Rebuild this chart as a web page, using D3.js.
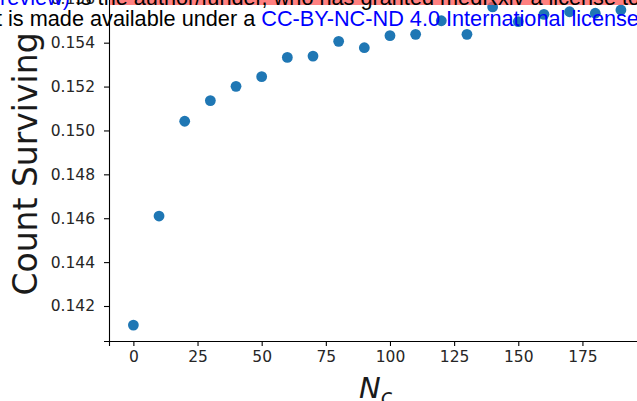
<!DOCTYPE html>
<html>
<head>
<meta charset="utf-8">
<script src="https://cdn.jsdelivr.net/npm/d3@7"></script>
<style>
  html, body { margin: 0; padding: 0; background: #fff; overflow: hidden; }
  svg { display: block; }
</style>
</head>
<body>
<svg id="chart" width="637" height="401"></svg>
<script>
// ---- data ----
const nc = [0, 10, 20, 30, 40, 50, 60, 70, 80, 90, 100, 110, 120, 130, 140, 150, 160, 170, 180, 190];
const surviving = [0.14113, 0.14610, 0.15042, 0.15136, 0.15201, 0.15245, 0.15333, 0.15339, 0.15406, 0.15377,
                   0.15432, 0.15438, 0.15500, 0.15438, 0.15563, 0.15496, 0.15529, 0.15541, 0.15534, 0.15549];
const xTicks = [0, 25, 50, 75, 100, 125, 150, 175];
const yTicks = [0.142, 0.144, 0.146, 0.148, 0.150, 0.152, 0.154, 0.156];
const yLabel = "Count Surviving";
const headerLine1 = ["review)", " is the author/funder, who has granted medRxiv a license to display the preprint in perpetuity."];
const headerLine2 = ["t is made available under a ", "CC-BY-NC-ND 4.0 International license", " ."];

const svg = d3.select("#chart");
const x = d3.scaleLinear().domain([-9.5, 199.5]).range([109, 645.3]);
const y = d3.scaleLinear().domain([0.140405, 0.156355]).range([341, -9]);

// axes
const gx = svg.append("g").attr("transform", `translate(0,${y.range()[0]})`)
  .call(d3.axisBottom(x).tickValues(xTicks).tickFormat(d3.format("d")).tickSizeOuter(0).tickSize(5).tickPadding(5));
const gy = svg.append("g").attr("transform", `translate(${x.range()[0]},0)`)
  .call(d3.axisLeft(y).tickValues(yTicks).tickFormat(d3.format(".3f")).tickSizeOuter(0).tickSize(5).tickPadding(9));
[gx, gy].forEach(g => {
  g.selectAll("path.domain").attr("stroke", "#000").attr("stroke-width", 1.1);
  g.selectAll(".tick line").attr("stroke", "#000").attr("stroke-width", 1.1);
  g.selectAll(".tick text").attr("fill", "#262626")
    .style("font-family", "'DejaVu Sans', sans-serif").style("font-size", "15.5px");
});

// points
svg.append("g").selectAll("circle").data(nc).join("circle")
  .attr("cx", d => x(d))
  .attr("cy", (d, i) => y(surviving[i]))
  .attr("r", 5.4)
  .attr("fill", "#1f77b4");

// axis labels
svg.append("text")
  .attr("transform", "translate(37,164) rotate(-90)")
  .attr("text-anchor", "middle")
  .style("font-family", "'DejaVu Sans', sans-serif")
  .style("font-size", "33px")
  .attr("fill", "#1a1a1a")
  .text(yLabel);

const xl = svg.append("text")
  .attr("x", 359).attr("y", 398)
  .style("font-family", "'DejaVu Sans', sans-serif")
  .style("font-size", "29px")
  .attr("fill", "#1a1a1a");
xl.append("tspan").style("font-style", "italic").text("N");
xl.append("tspan").style("font-style", "italic").style("font-size", "21px").attr("dy", 6).text("c");

// header overlay (page stamp)
svg.append("rect").attr("x", 110).attr("y", 0).attr("width", 527).attr("height", 5)
  .attr("fill", "#ff5555").attr("opacity", 0.75);
const h1 = svg.append("text").attr("x", 0).attr("y", 5)
  .style("font-family", "'Liberation Sans', Arial, sans-serif").style("font-size", "21.7px");
h1.append("tspan").attr("fill", "#0000ff").text(headerLine1[0]);
h1.append("tspan").attr("fill", "#000").text(headerLine1[1]);

const h2 = svg.append("text").attr("x", -4).attr("y", 26)
  .style("font-family", "'Liberation Sans', Arial, sans-serif").style("font-size", "21.7px");
h2.append("tspan").attr("fill", "#000").text(headerLine2[0]);
h2.append("tspan").attr("fill", "#0000ff").text(headerLine2[1]);
h2.append("tspan").attr("fill", "#000").text(headerLine2[2]);
</script>
</body>
</html>
